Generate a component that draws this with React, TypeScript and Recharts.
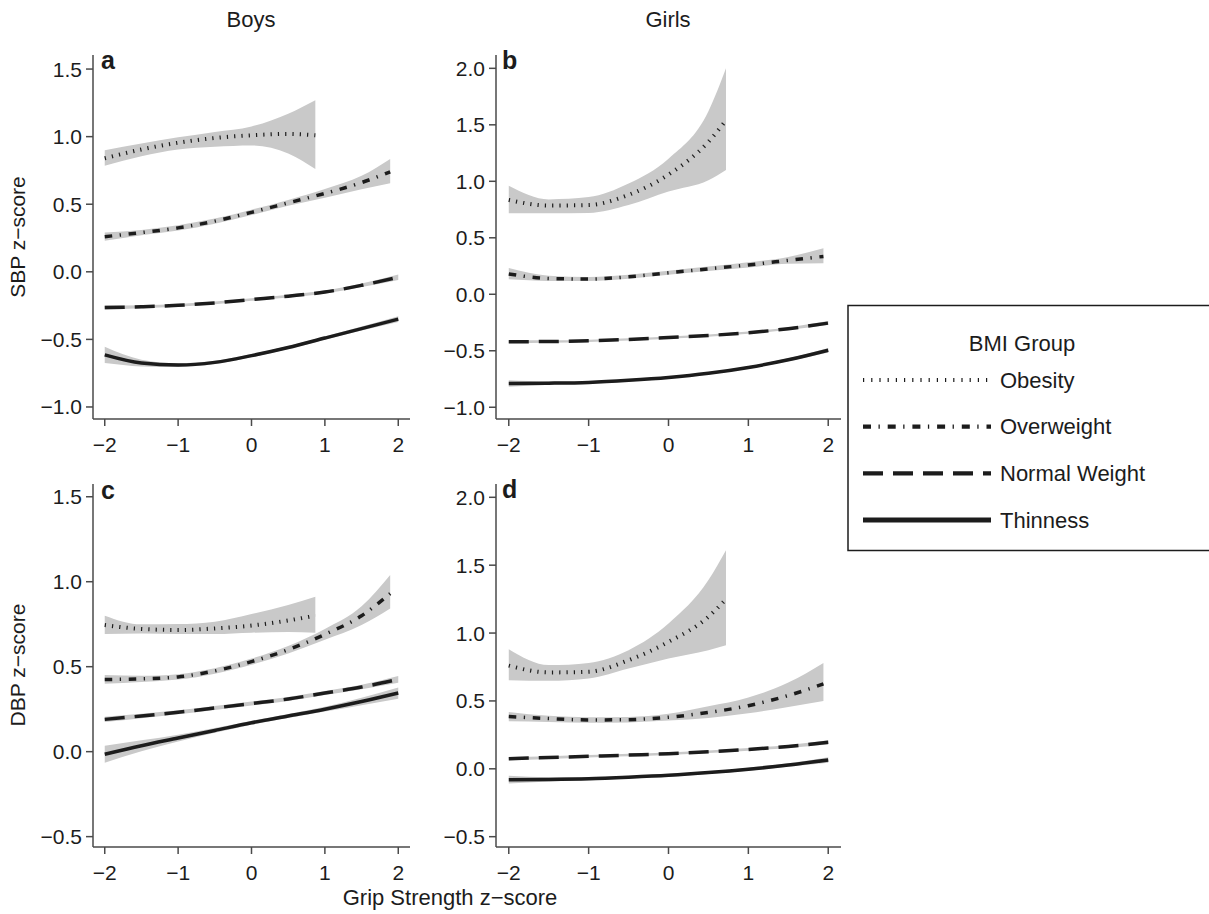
import { Area, ComposedChart, Line, XAxis, YAxis } from "recharts";

// x grids (grip strength z-score) for each fitted curve
const xFull = [-2, -1.5, -1, -0.5, 0, 0.5, 1, 1.5, 2];
const xBoysObesity = [-2, -1.5, -1, -0.5, 0, 0.5, 0.87];
const xGirlsObesity = [-2, -1.5, -1, -0.5, 0, 0.5, 0.72];
const xBoysOverweight = [-2, -1.5, -1, -0.5, 0, 0.5, 1, 1.5, 1.89];
const xGirlsOverweight = [-2, -1.5, -1, -0.5, 0, 0.5, 1, 1.5, 1.94];

const xTicks = [-2, -1, 0, 1, 2];

// each entry: [lower CI, fitted, upper CI]
type Triple = [number, number, number];

// (a) SBP, boys
const sbpBoysObesity: Triple[] = [
  [0.785, 0.84, 0.9], [0.855, 0.905, 0.95], [0.905, 0.955, 0.995], [0.925, 0.99, 1.035],
  [0.935, 1.01, 1.075], [0.875, 1.02, 1.17], [0.76, 1.01, 1.27],
];
const sbpBoysOverweight: Triple[] = [
  [0.23, 0.26, 0.29], [0.27, 0.29, 0.31], [0.305, 0.325, 0.345], [0.356, 0.375, 0.394],
  [0.42, 0.44, 0.46], [0.488, 0.51, 0.532], [0.548, 0.58, 0.612], [0.61, 0.66, 0.71], [0.655, 0.74, 0.835],
];
const sbpBoysNormal: Triple[] = [
  [-0.28, -0.265, -0.25], [-0.269, -0.258, -0.247], [-0.258, -0.248, -0.238], [-0.24, -0.23, -0.22],
  [-0.215, -0.205, -0.195], [-0.19, -0.18, -0.17], [-0.161, -0.15, -0.139], [-0.113, -0.1, -0.087], [-0.06, -0.04, -0.02],
];
const sbpBoysThinness: Triple[] = [
  [-0.675, -0.615, -0.555], [-0.7, -0.675, -0.65], [-0.704, -0.69, -0.676], [-0.682, -0.67, -0.658],
  [-0.632, -0.62, -0.608], [-0.572, -0.56, -0.548], [-0.502, -0.49, -0.478], [-0.435, -0.42, -0.405], [-0.372, -0.35, -0.328],
];

// (b) SBP, girls
const sbpGirlsObesity: Triple[] = [
  [0.717, 0.835, 0.96], [0.717, 0.785, 0.84], [0.72, 0.79, 0.86], [0.79, 0.88, 0.98],
  [0.91, 1.06, 1.2], [1.01, 1.35, 1.62], [1.1, 1.54, 2.0],
];
const sbpGirlsOverweight: Triple[] = [
  [0.133, 0.18, 0.233], [0.118, 0.14, 0.165], [0.117, 0.135, 0.153], [0.137, 0.155, 0.173],
  [0.172, 0.19, 0.208], [0.205, 0.225, 0.245], [0.237, 0.26, 0.283], [0.27, 0.3, 0.33], [0.274, 0.335, 0.407],
];
const sbpGirlsNormal: Triple[] = [
  [-0.434, -0.42, -0.406], [-0.429, -0.418, -0.407], [-0.422, -0.412, -0.402], [-0.41, -0.4, -0.39],
  [-0.393, -0.383, -0.373], [-0.375, -0.365, -0.355], [-0.35, -0.34, -0.33], [-0.317, -0.305, -0.293], [-0.273, -0.255, -0.237],
];
const sbpGirlsThinness: Triple[] = [
  [-0.818, -0.79, -0.762], [-0.801, -0.787, -0.773], [-0.791, -0.78, -0.769], [-0.772, -0.762, -0.752],
  [-0.747, -0.737, -0.727], [-0.71, -0.7, -0.69], [-0.659, -0.648, -0.637], [-0.593, -0.58, -0.567], [-0.515, -0.495, -0.475],
];

// (c) DBP, boys
const dbpBoysObesity: Triple[] = [
  [0.692, 0.745, 0.8], [0.696, 0.722, 0.749], [0.692, 0.716, 0.751], [0.692, 0.725, 0.765],
  [0.7, 0.742, 0.81], [0.704, 0.772, 0.863], [0.7, 0.8, 0.912],
];
const dbpBoysOverweight: Triple[] = [
  [0.399, 0.425, 0.451], [0.41, 0.428, 0.446], [0.424, 0.44, 0.456], [0.459, 0.475, 0.491],
  [0.512, 0.53, 0.548], [0.578, 0.6, 0.622], [0.658, 0.69, 0.722], [0.745, 0.8, 0.855], [0.843, 0.93, 1.04],
];
const dbpBoysNormal: Triple[] = [
  [0.174, 0.19, 0.206], [0.197, 0.21, 0.223], [0.22, 0.232, 0.244], [0.245, 0.257, 0.269],
  [0.271, 0.283, 0.295], [0.298, 0.31, 0.322], [0.333, 0.345, 0.357], [0.367, 0.38, 0.393], [0.405, 0.425, 0.445],
];
const dbpBoysThinness: Triple[] = [
  [-0.065, -0.015, 0.035], [0.003, 0.035, 0.067], [0.06, 0.08, 0.1], [0.111, 0.125, 0.139],
  [0.158, 0.17, 0.182], [0.198, 0.21, 0.222], [0.236, 0.25, 0.264], [0.273, 0.295, 0.317], [0.312, 0.345, 0.378],
];

// (d) DBP, girls
const dbpGirlsObesity: Triple[] = [
  [0.653, 0.76, 0.88], [0.648, 0.71, 0.764], [0.665, 0.715, 0.78], [0.739, 0.8, 0.874],
  [0.813, 0.935, 1.07], [0.874, 1.12, 1.39], [0.911, 1.25, 1.61],
];
const dbpGirlsOverweight: Triple[] = [
  [0.35, 0.385, 0.418], [0.345, 0.37, 0.39], [0.34, 0.36, 0.38], [0.342, 0.362, 0.382],
  [0.355, 0.38, 0.405], [0.375, 0.415, 0.46], [0.41, 0.465, 0.525], [0.455, 0.54, 0.635], [0.5, 0.625, 0.78],
];
const dbpGirlsNormal: Triple[] = [
  [0.063, 0.075, 0.087], [0.073, 0.083, 0.093], [0.083, 0.092, 0.101], [0.092, 0.101, 0.11],
  [0.102, 0.111, 0.12], [0.116, 0.125, 0.134], [0.133, 0.143, 0.153], [0.154, 0.165, 0.176], [0.179, 0.195, 0.211],
];
const dbpGirlsThinness: Triple[] = [
  [-0.108, -0.08, -0.052], [-0.094, -0.078, -0.062], [-0.085, -0.073, -0.061], [-0.072, -0.062, -0.052],
  [-0.058, -0.048, -0.038], [-0.038, -0.028, -0.018], [-0.014, -0.003, 0.008], [0.015, 0.028, 0.041], [0.045, 0.065, 0.085],
];

const FONT = "'Liberation Sans', Arial, Helvetica, sans-serif";
const INK = "#1c1c1c";
const AXIS = "#4a4a4a";
const BAND = "#c9c9c9";

type GroupKey = "obesity" | "overweight" | "normal" | "thinness";

const groupStyle: Record<GroupKey, { label: string; dash?: string; width: number }> = {
  obesity: { label: "Obesity", dash: "1.2 6.1", width: 4 },
  overweight: { label: "Overweight", dash: "7.5 7.5 1.3 7.7", width: 3.5 },
  normal: { label: "Normal Weight", dash: "20 10", width: 3.5 },
  thinness: { label: "Thinness", width: 3.5 },
};

const legendOrder: GroupKey[] = ["obesity", "overweight", "normal", "thinness"];

function toRows(xs: number[], vals: Triple[]) {
  return xs.map((x, i) => ({ x, lo: vals[i][0], fit: vals[i][1], hi: vals[i][2] }));
}

const fmtX = (v: number) => (v < 0 ? "\u2212" : "") + Math.abs(v);
const fmtY = (v: number) => (v < 0 ? "\u2212" : "") + Math.abs(v).toFixed(1);

interface PanelProps {
  left: number;
  top: number;
  width: number;
  height: number;
  yDomain: [number, number];
  yTicks: number[];
  series: { key: GroupKey; rows: ReturnType<typeof toRows> }[];
}

function Panel({ left, top, width, height, yDomain, yTicks, series }: PanelProps) {
  const yAxisW = 70;
  const mTop = 10;
  const mRight = 12;
  const xAxisH = 50;
  const tickStyle = { fill: INK, fontSize: 21, fontFamily: FONT };
  return (
    <div style={{ position: "absolute", left: left - yAxisW, top: top - mTop }}>
      <ComposedChart
        width={yAxisW + width + mRight}
        height={mTop + height + xAxisH}
        margin={{ top: mTop, right: mRight, bottom: 0, left: 0 }}
      >
        <XAxis
          type="number"
          dataKey="x"
          domain={[-2.16, 2.16]}
          ticks={xTicks}
          allowDataOverflow
          interval={0}
          height={xAxisH}
          tickSize={7}
          tickMargin={11}
          axisLine={{ stroke: AXIS, strokeWidth: 1.5 }}
          tickLine={{ stroke: AXIS, strokeWidth: 1.5 }}
          tick={tickStyle}
          tickFormatter={fmtX}
        />
        <YAxis
          type="number"
          domain={yDomain}
          ticks={yTicks}
          allowDataOverflow
          interval={0}
          width={yAxisW}
          tickSize={7}
          tickMargin={4}
          axisLine={{ stroke: AXIS, strokeWidth: 1.5 }}
          tickLine={{ stroke: AXIS, strokeWidth: 1.5 }}
          tick={tickStyle}
          tickFormatter={fmtY}
        />
        {series.map((s) => (
          <Area
            key={`band-${s.key}`}
            name={`band-${s.key}`}
            data={s.rows}
            dataKey={(r: { lo: number; hi: number }) => [r.lo, r.hi]}
            type="monotone"
            stroke="none"
            fill={BAND}
            fillOpacity={1}
            isAnimationActive={false}
          />
        ))}
        {series.map((s) => (
          <Line
            key={`fit-${s.key}`}
            name={groupStyle[s.key].label}
            data={s.rows}
            dataKey="fit"
            type="monotone"
            stroke={INK}
            strokeWidth={groupStyle[s.key].width}
            strokeDasharray={groupStyle[s.key].dash}
            strokeLinecap="butt"
            dot={false}
            activeDot={false}
            isAnimationActive={false}
          />
        ))}
      </ComposedChart>
    </div>
  );
}

const panelA = [
  { key: "obesity" as GroupKey, rows: toRows(xBoysObesity, sbpBoysObesity) },
  { key: "overweight" as GroupKey, rows: toRows(xBoysOverweight, sbpBoysOverweight) },
  { key: "normal" as GroupKey, rows: toRows(xFull, sbpBoysNormal) },
  { key: "thinness" as GroupKey, rows: toRows(xFull, sbpBoysThinness) },
];
const panelB = [
  { key: "obesity" as GroupKey, rows: toRows(xGirlsObesity, sbpGirlsObesity) },
  { key: "overweight" as GroupKey, rows: toRows(xGirlsOverweight, sbpGirlsOverweight) },
  { key: "normal" as GroupKey, rows: toRows(xFull, sbpGirlsNormal) },
  { key: "thinness" as GroupKey, rows: toRows(xFull, sbpGirlsThinness) },
];
const panelC = [
  { key: "obesity" as GroupKey, rows: toRows(xBoysObesity, dbpBoysObesity) },
  { key: "overweight" as GroupKey, rows: toRows(xBoysOverweight, dbpBoysOverweight) },
  { key: "normal" as GroupKey, rows: toRows(xFull, dbpBoysNormal) },
  { key: "thinness" as GroupKey, rows: toRows(xFull, dbpBoysThinness) },
];
const panelD = [
  { key: "obesity" as GroupKey, rows: toRows(xGirlsObesity, dbpGirlsObesity) },
  { key: "overweight" as GroupKey, rows: toRows(xGirlsOverweight, dbpGirlsOverweight) },
  { key: "normal" as GroupKey, rows: toRows(xFull, dbpGirlsNormal) },
  { key: "thinness" as GroupKey, rows: toRows(xFull, dbpGirlsThinness) },
];

export default function App() {
  const text = { fontFamily: FONT, fill: INK };
  const legendY = [380, 426.7, 473.3, 520];
  return (
    <div
      style={{
        position: "absolute",
        left: 0,
        top: 0,
        width: 1209,
        height: 914,
        overflow: "hidden",
        background: "#fff",
      }}
    >
      <Panel left={93} top={55} width={317} height={364} yDomain={[-1.089, 1.604]} yTicks={[-1, -0.5, 0, 0.5, 1, 1.5]} series={panelA} />
      <Panel left={496} top={55} width={345} height={364} yDomain={[-1.104, 2.118]} yTicks={[-1, -0.5, 0, 0.5, 1, 1.5, 2]} series={panelB} />
      <Panel left={93} top={484} width={317} height={363} yDomain={[-0.561, 1.575]} yTicks={[-0.5, 0, 0.5, 1, 1.5]} series={panelC} />
      <Panel left={496} top={484} width={345} height={363} yDomain={[-0.576, 2.098]} yTicks={[-0.5, 0, 0.5, 1, 1.5, 2]} series={panelD} />

      <svg width={1209} height={914} style={{ position: "absolute", left: 0, top: 0, pointerEvents: "none" }}>
        <text x={251} y={27} textAnchor="middle" fontSize={22} {...text}>Boys</text>
        <text x={668} y={27} textAnchor="middle" fontSize={22} {...text}>Girls</text>
        <text transform="translate(25,237) rotate(-90)" textAnchor="middle" fontSize={21} {...text}>SBP z{"\u2212"}score</text>
        <text transform="translate(25,665) rotate(-90)" textAnchor="middle" fontSize={21} {...text}>DBP z{"\u2212"}score</text>
        <text x={450} y={905} textAnchor="middle" fontSize={22} {...text}>Grip Strength z{"\u2212"}score</text>

        <text x={101} y={69} fontSize={25} fontWeight="bold" {...text}>a</text>
        <text x={502} y={69} fontSize={25} fontWeight="bold" {...text}>b</text>
        <text x={101} y={499} fontSize={25} fontWeight="bold" {...text}>c</text>
        <text x={502} y={498} fontSize={25} fontWeight="bold" {...text}>d</text>

        <rect x={848} y={305.5} width={420} height={245} fill="#fff" stroke={INK} strokeWidth={1.5} />
        <text x={1022} y={351} textAnchor="middle" fontSize={22} {...text}>BMI Group</text>
        {legendOrder.map((k, i) => (
          <g key={k}>
            <line
              x1={863}
              x2={991}
              y1={legendY[i]}
              y2={legendY[i]}
              stroke={INK}
              strokeWidth={k === "thinness" ? 5 : 4.2}
              strokeDasharray={k === "overweight" ? "8 7.5 1.3 7.9" : k === "obesity" ? "1.2 7" : groupStyle[k].dash}
            />
            <text x={1000} y={legendY[i] + 7.5} fontSize={22} {...text}>{groupStyle[k].label}</text>
          </g>
        ))}
      </svg>
    </div>
  );
}
